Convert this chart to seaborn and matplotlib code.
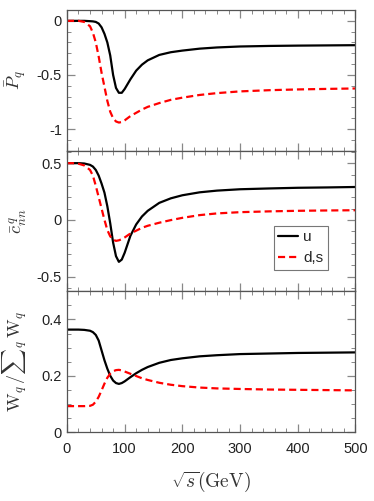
import numpy as np
import pandas as pd
import seaborn as sns
import matplotlib.pyplot as plt
from matplotlib.ticker import MultipleLocator

# sqrt(s) grid (GeV) shared by all curves
sqrt_s = [0, 10, 20, 30, 40, 45, 50, 55, 60, 65, 70, 75, 80, 85, 90, 95, 100,
          110, 120, 130, 140, 160, 180, 200, 230, 260, 300, 350, 400, 450, 500]

# panel 1: P_q
p_u = [0, 0, 0, 0, -0.003, -0.005, -0.01, -0.025, -0.06, -0.12, -0.20, -0.32, -0.50,
       -0.62, -0.665, -0.665, -0.63, -0.54, -0.46, -0.405, -0.365, -0.315, -0.29, -0.275,
       -0.257, -0.246, -0.237, -0.232, -0.229, -0.227, -0.225]
p_ds = [0, 0, 0, -0.01, -0.05, -0.11, -0.20, -0.33, -0.48, -0.61, -0.74, -0.84, -0.90,
        -0.93, -0.94, -0.935, -0.92, -0.88, -0.85, -0.82, -0.795, -0.76, -0.73, -0.71,
        -0.685, -0.668, -0.652, -0.641, -0.634, -0.629, -0.625]

# panel 2: c_nn
c_u = [0.5, 0.5, 0.5, 0.497, 0.485, 0.47, 0.44, 0.39, 0.32, 0.24, 0.12, -0.03, -0.20,
       -0.32, -0.37, -0.35, -0.29, -0.14, -0.04, 0.03, 0.08, 0.15, 0.19, 0.217,
       0.243, 0.258, 0.27, 0.277, 0.283, 0.286, 0.29]
c_ds = [0.5, 0.5, 0.495, 0.48, 0.44, 0.39, 0.30, 0.20, 0.10, 0.0, -0.09, -0.145, -0.175,
        -0.185, -0.18, -0.17, -0.155, -0.12, -0.095, -0.07, -0.052, -0.025, -0.002, 0.018,
        0.042, 0.057, 0.068, 0.075, 0.08, 0.083, 0.085]

# panel 3: W_q / sum W_q
w_u = [0.364, 0.364, 0.364, 0.363, 0.36, 0.355, 0.345, 0.325, 0.29, 0.255, 0.225, 0.20,
       0.183, 0.174, 0.171, 0.174, 0.18, 0.195, 0.209, 0.221, 0.231, 0.246, 0.256, 0.262,
       0.269, 0.273, 0.277, 0.279, 0.281, 0.282, 0.283]
w_ds = [0.092, 0.092, 0.092, 0.092, 0.093, 0.097, 0.108, 0.125, 0.148, 0.172, 0.193,
        0.207, 0.216, 0.22, 0.221, 0.219, 0.215, 0.207, 0.199, 0.191, 0.185, 0.175, 0.168,
        0.163, 0.158, 0.155, 0.153, 0.151, 0.15, 0.149, 0.148]

flavors = ['u', 'd,s']
ylabels = [r'$\bar{P}_q$', r'$\bar{c}^{\,q}_{nn}$', r'$\mathrm{W}_q\,/\sum{}_{q}\,\mathrm{W}_q$']
ylims = [(-1.2, 0.1), (-0.63, 0.61), (0, 0.5)]
yticks = [[-1, -0.5, 0], [-0.5, 0, 0.5], [0, 0.2, 0.4]]
yticklabels = [['-1', '-0.5', '0'], ['-0.5', '0', '0.5'], ['0', '0.2', '0.4']]
yminor = [0.1, 0.1, 0.05]

rows = []
for panel, (a, b) in enumerate([(p_u, p_ds), (c_u, c_ds), (w_u, w_ds)]):
    for fl, vals in zip(flavors, (a, b)):
        for x, v in zip(sqrt_s, vals):
            rows.append({'panel': panel, 'flavor': fl, 'sqrt_s': x, 'value': v})
df = pd.DataFrame(rows)

sns.set_style('ticks')
plt.rcParams['font.family'] = ['Liberation Sans', 'DejaVu Sans']
plt.rcParams['mathtext.fontset'] = 'cm'

fig, axes = plt.subplots(3, 1, figsize=(3.74, 5.01), dpi=100, sharex=True)
fig.subplots_adjust(left=0.179, right=0.9505, top=0.980, bottom=0.1377, hspace=0)

palette = {'u': 'black', 'd,s': '#ff0000'}
dashes = {'u': '', 'd,s': (3.2, 1.8)}

for i, ax in enumerate(axes):
    sns.lineplot(data=df[df.panel == i], x='sqrt_s', y='value', hue='flavor',
                 style='flavor', palette=palette, dashes=dashes, linewidth=1.6,
                 legend=False, ax=ax)
    ax.set_xlim(0, 500)
    ax.set_ylim(*ylims[i])
    ax.set_yticks(yticks[i])
    ax.set_yticklabels(yticklabels[i])
    ax.yaxis.set_minor_locator(MultipleLocator(yminor[i]))
    ax.xaxis.set_major_locator(MultipleLocator(100))
    ax.xaxis.set_minor_locator(MultipleLocator(20))
    ax.tick_params(which='both', direction='in', top=True, right=True,
                   color='#888888', labelsize=10.5, labelcolor='#222222')
    ax.tick_params(which='major', length=6, width=0.9)
    ax.tick_params(which='minor', length=3, width=0.7)
    ax.tick_params(axis='x', which='major', pad=7)
    for sp in ax.spines.values():
        sp.set_color('#555555')
        sp.set_linewidth(0.9)
    ax.set_ylabel(ylabels[i], fontsize=13, color='#333333', labelpad=6)
    ax.set_xlabel('')

axes[2].set_xlabel(r'$\sqrt{s}(\mathrm{GeV})$', fontsize=14, color='#333333', labelpad=10)
axes[2].set_xticks([0, 100, 200, 300, 400, 500])

leg = axes[1].legend(axes[1].lines[:2], flavors, loc='lower right',
                     bbox_to_anchor=(0.93, 0.1),
                     fontsize=11, handlelength=1.3, handletextpad=0.3,
                     borderpad=0.3, labelspacing=0.45, fancybox=False, framealpha=1)
leg.get_frame().set_edgecolor('#777777')
leg.get_frame().set_linewidth(0.8)

fig.align_ylabels(axes)
fig.savefig('out.png', dpi=100)
